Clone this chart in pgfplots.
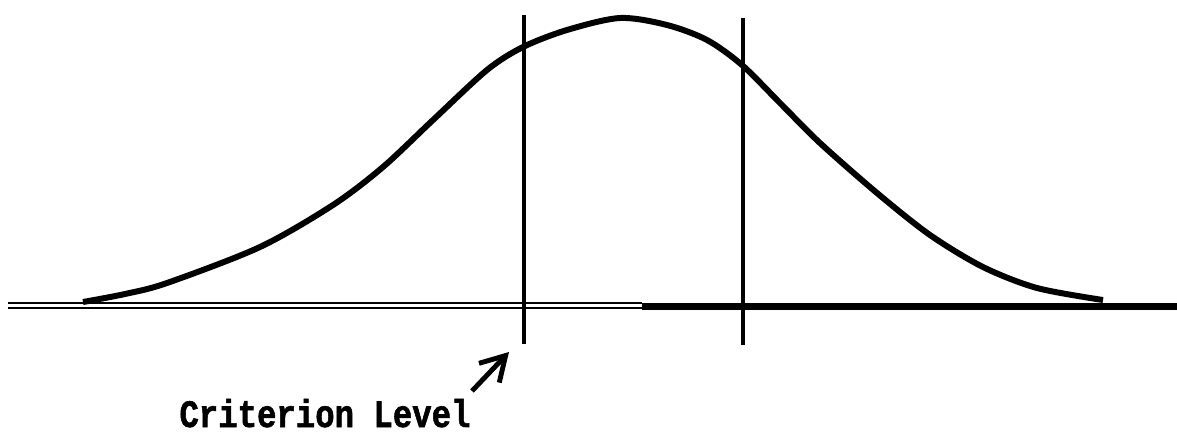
\documentclass[border=0pt]{standalone}
\usepackage{fontspec}
\newfontfamily\typew{Liberation Mono Bold}[FakeBold=1.6]
\usepackage{pgfplots}
\pgfplotsset{compat=1.18}
\usetikzlibrary{arrows.meta}

\begin{document}
\begin{tikzpicture}
\begin{axis}[
scale only axis,
width=117.7mm, height=43.2mm,
xmin=0, xmax=1177, ymin=0, ymax=432,
hide axis,
clip=false,
]

% bell curve
\addplot[black, line width=1.7pt, smooth, tension=0.5] coordinates {
(83,130) (125,138) (167,149) (260,185) (333,227) (383,265) (433,312)
(487,362) (523,385) (567,402) (620,414) (667,407) (707,392) (742,367)
(780,329) (820,289) (877,239) (930,197) (983,165) (1037,144) (1103,132)};

% criterion lines
\addplot[black, line width=1.35pt] coordinates {(524,417) (524,88)};
\addplot[black, line width=1.35pt] coordinates {(743,414) (743,87)};

% baseline: double on the left, heavy on the right
\addplot[black, line width=0.65pt] coordinates {(8,129) (642,129)};
\addplot[black, line width=0.8pt] coordinates {(8,124) (642,124)};
\addplot[black, line width=1.8pt] coordinates {(642,125.5) (1177,125.5)};

\draw[black, line width=1.4pt, -{Straight Barb[length=2.4mm, width=2.8mm]}]
  (axis cs:472,41) -- (axis cs:509,80);
\node[anchor=base, inner sep=0pt] at (axis cs:325,5)
  {\scalebox{1}[1.2]{\fontsize{9.2}{10}\selectfont\typew Criterion Level}};
\end{axis}
\pgfresetboundingbox
\useasboundingbox (0,0) rectangle (117.7mm,43.2mm);
\end{tikzpicture}
\end{document}
